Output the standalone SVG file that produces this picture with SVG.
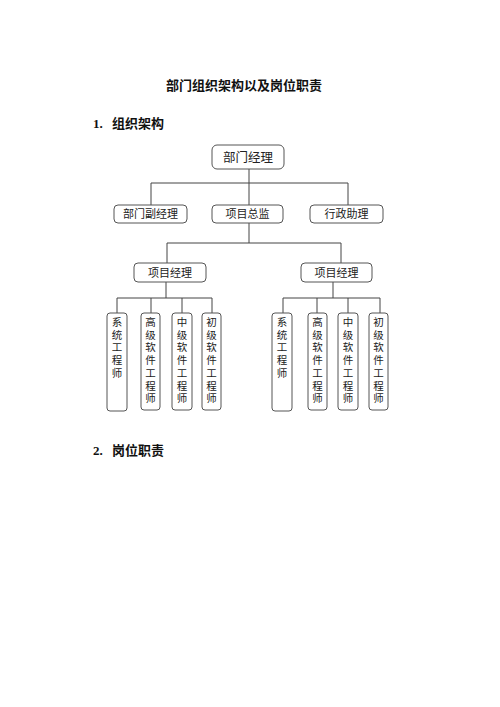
<svg xmlns="http://www.w3.org/2000/svg" width="500" height="707" viewBox="0 0 500 707">
<style>
.bg{fill:#fff}
.h{font-family:"Liberation Serif","Noto Sans CJK SC",serif;font-weight:bold;fill:#111;font-size:13px}
.box{fill:#fff;stroke:#555;stroke-width:1}
.t{font-family:"Noto Sans CJK SC",sans-serif;fill:#222;text-anchor:middle}
.t1{font-size:12.5px}
.t2{font-size:11px}
.t3{font-size:11px}
.t4{font-size:10.5px}
.ln{stroke:#444;stroke-width:1;fill:none}
</style>
<rect class="bg" x="0" y="0" width="500" height="707"/>
<text class="h" x="244" y="90" text-anchor="middle">部门组织架构以及岗位职责</text>
<text class="h" x="93" y="128">1.<tspan x="112">组织架构</tspan></text>
<text class="h" x="93" y="455">2.<tspan x="112">岗位职责</tspan></text>

<g id="connectors">
<path class="ln" d="M249,169V183M151,183H348M151,183V205M249,183V205M348,183V205"/>
<path class="ln" d="M249,223V243M167,243H341M167,243V263M341,243V263"/>
<path class="ln" d="M166,282V298M117,298H212M117,298V313M151,298V313M182,298V313M212,298V313"/>
<path class="ln" d="M333,282V298M283,298H380M283,298V313M317,298V313M348,298V313M380,298V313"/>
</g>

<g id="n-bmjl"><rect class="box" x="212" y="145" width="72" height="24" rx="5"/><text class="t t1" x="248" y="161.5">部门经理</text></g>
<g id="n-bmfjl"><rect class="box" x="114" y="205" width="73" height="18" rx="4"/><text class="t t2" x="150.5" y="218">部门副经理</text></g>
<g id="n-xmzj"><rect class="box" x="212" y="205" width="71" height="18" rx="4"/><text class="t t2" x="247.5" y="218">项目总监</text></g>
<g id="n-xzzl"><rect class="box" x="310" y="205" width="73" height="18" rx="4"/><text class="t t2" x="346.5" y="218">行政助理</text></g>
<g id="n-pm1"><rect class="box" x="134" y="263" width="72" height="19" rx="4"/><text class="t t3" x="170" y="276.5">项目经理</text></g>
<g id="n-pm2"><rect class="box" x="301" y="263" width="71" height="19" rx="4"/><text class="t t3" x="336.5" y="276.5">项目经理</text></g>

<g id="n-l1"><rect class="box" x="107" y="313" width="20" height="98" rx="3"/><text class="t t4" x="117" y="326"><tspan x="117">系</tspan><tspan x="117" dy="12.7">统</tspan><tspan x="117" dy="12.7">工</tspan><tspan x="117" dy="12.7">程</tspan><tspan x="117" dy="12.7">师</tspan></text></g>
<g id="n-l2"><rect class="box" x="141" y="313" width="19" height="97" rx="3"/><text class="t t4" x="150.5" y="326"><tspan x="150.5">高</tspan><tspan x="150.5" dy="12.7">级</tspan><tspan x="150.5" dy="12.7">软</tspan><tspan x="150.5" dy="12.7">件</tspan><tspan x="150.5" dy="12.7">工</tspan><tspan x="150.5" dy="12.7">程</tspan><tspan x="150.5" dy="12.7">师</tspan></text></g>
<g id="n-l3"><rect class="box" x="172" y="313" width="20" height="97" rx="3"/><text class="t t4" x="182" y="326"><tspan x="182">中</tspan><tspan x="182" dy="12.7">级</tspan><tspan x="182" dy="12.7">软</tspan><tspan x="182" dy="12.7">件</tspan><tspan x="182" dy="12.7">工</tspan><tspan x="182" dy="12.7">程</tspan><tspan x="182" dy="12.7">师</tspan></text></g>
<g id="n-l4"><rect class="box" x="202" y="313" width="19" height="97" rx="3"/><text class="t t4" x="211.5" y="326"><tspan x="211.5">初</tspan><tspan x="211.5" dy="12.7">级</tspan><tspan x="211.5" dy="12.7">软</tspan><tspan x="211.5" dy="12.7">件</tspan><tspan x="211.5" dy="12.7">工</tspan><tspan x="211.5" dy="12.7">程</tspan><tspan x="211.5" dy="12.7">师</tspan></text></g>

<g id="n-r1"><rect class="box" x="272" y="313" width="20" height="98" rx="3"/><text class="t t4" x="282" y="326"><tspan x="282">系</tspan><tspan x="282" dy="12.7">统</tspan><tspan x="282" dy="12.7">工</tspan><tspan x="282" dy="12.7">程</tspan><tspan x="282" dy="12.7">师</tspan></text></g>
<g id="n-r2"><rect class="box" x="308" y="313" width="19" height="97" rx="3"/><text class="t t4" x="317.5" y="326"><tspan x="317.5">高</tspan><tspan x="317.5" dy="12.7">级</tspan><tspan x="317.5" dy="12.7">软</tspan><tspan x="317.5" dy="12.7">件</tspan><tspan x="317.5" dy="12.7">工</tspan><tspan x="317.5" dy="12.7">程</tspan><tspan x="317.5" dy="12.7">师</tspan></text></g>
<g id="n-r3"><rect class="box" x="338" y="313" width="20" height="97" rx="3"/><text class="t t4" x="348" y="326"><tspan x="348">中</tspan><tspan x="348" dy="12.7">级</tspan><tspan x="348" dy="12.7">软</tspan><tspan x="348" dy="12.7">件</tspan><tspan x="348" dy="12.7">工</tspan><tspan x="348" dy="12.7">程</tspan><tspan x="348" dy="12.7">师</tspan></text></g>
<g id="n-r4"><rect class="box" x="369" y="313" width="19" height="97" rx="3"/><text class="t t4" x="378.5" y="326"><tspan x="378.5">初</tspan><tspan x="378.5" dy="12.7">级</tspan><tspan x="378.5" dy="12.7">软</tspan><tspan x="378.5" dy="12.7">件</tspan><tspan x="378.5" dy="12.7">工</tspan><tspan x="378.5" dy="12.7">程</tspan><tspan x="378.5" dy="12.7">师</tspan></text></g>
</svg>
